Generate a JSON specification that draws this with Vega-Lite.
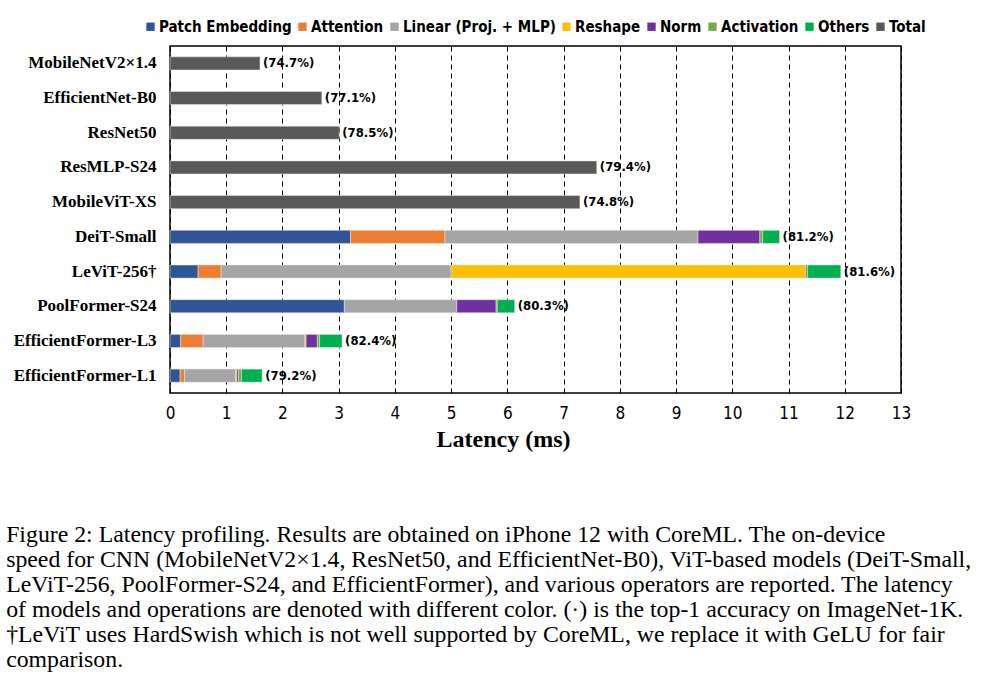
{
  "$schema": "https://vega.github.io/schema/vega-lite/v6.json",
  "width": 731,
  "height": 347,
  "padding": {"left": 6, "top": 19, "right": 0, "bottom": 0},
  "autosize": {"type": "pad"},
  "background": "white",
  "title": {
    "text": [
      "Figure 2: Latency profiling. Results are obtained on iPhone 12 with CoreML. The on-device",
      "speed for CNN (MobileNetV2×1.4, ResNet50, and EfficientNet-B0), ViT-based models (DeiT-Small,",
      "LeViT-256, PoolFormer-S24, and EfficientFormer), and various operators are reported. The latency",
      "of models and operations are denoted with different color. (·) is the top-1 accuracy on ImageNet-1K.",
      "†LeViT uses HardSwish which is not well supported by CoreML, we replace it with GeLU for fair",
      "comparison."
    ],
    "orient": "bottom",
    "anchor": "start",
    "frame": "bounds",
    "font": "Liberation Serif",
    "fontSize": 23.8,
    "fontWeight": "normal",
    "color": "black",
    "lineHeight": 25,
    "offset": 72,
    "dx": -7
  },
  "datasets": {
    "segments": [
      {"model": "MobileNetV2×1.4", "op": "Total", "ms": 1.60},
      {"model": "EfficientNet-B0", "op": "Total", "ms": 2.70},
      {"model": "ResNet50", "op": "Total", "ms": 3.01},
      {"model": "ResMLP-S24", "op": "Total", "ms": 7.59},
      {"model": "MobileViT-XS", "op": "Total", "ms": 7.29},
      {"model": "DeiT-Small", "op": "Patch Embedding", "ms": 3.21},
      {"model": "DeiT-Small", "op": "Attention", "ms": 1.68},
      {"model": "DeiT-Small", "op": "Linear (Proj. + MLP)", "ms": 4.50},
      {"model": "DeiT-Small", "op": "Norm", "ms": 1.10},
      {"model": "DeiT-Small", "op": "Activation", "ms": 0.05},
      {"model": "DeiT-Small", "op": "Others", "ms": 0.30},
      {"model": "LeViT-256†", "op": "Patch Embedding", "ms": 0.50},
      {"model": "LeViT-256†", "op": "Attention", "ms": 0.41},
      {"model": "LeViT-256†", "op": "Linear (Proj. + MLP)", "ms": 4.09},
      {"model": "LeViT-256†", "op": "Reshape", "ms": 6.30},
      {"model": "LeViT-256†", "op": "Activation", "ms": 0.04},
      {"model": "LeViT-256†", "op": "Others", "ms": 0.59},
      {"model": "PoolFormer-S24", "op": "Patch Embedding", "ms": 3.10},
      {"model": "PoolFormer-S24", "op": "Linear (Proj. + MLP)", "ms": 2.00},
      {"model": "PoolFormer-S24", "op": "Norm", "ms": 0.70},
      {"model": "PoolFormer-S24", "op": "Activation", "ms": 0.02},
      {"model": "PoolFormer-S24", "op": "Others", "ms": 0.31},
      {"model": "EfficientFormer-L3", "op": "Patch Embedding", "ms": 0.19},
      {"model": "EfficientFormer-L3", "op": "Attention", "ms": 0.40},
      {"model": "EfficientFormer-L3", "op": "Linear (Proj. + MLP)", "ms": 1.81},
      {"model": "EfficientFormer-L3", "op": "Reshape", "ms": 0.02},
      {"model": "EfficientFormer-L3", "op": "Norm", "ms": 0.20},
      {"model": "EfficientFormer-L3", "op": "Activation", "ms": 0.04},
      {"model": "EfficientFormer-L3", "op": "Others", "ms": 0.40},
      {"model": "EfficientFormer-L1", "op": "Patch Embedding", "ms": 0.18},
      {"model": "EfficientFormer-L1", "op": "Attention", "ms": 0.08},
      {"model": "EfficientFormer-L1", "op": "Linear (Proj. + MLP)", "ms": 0.91},
      {"model": "EfficientFormer-L1", "op": "Reshape", "ms": 0.02},
      {"model": "EfficientFormer-L1", "op": "Norm", "ms": 0.03},
      {"model": "EfficientFormer-L1", "op": "Activation", "ms": 0.05},
      {"model": "EfficientFormer-L1", "op": "Others", "ms": 0.37}
    ],
    "labels": [
      {"model": "MobileNetV2×1.4", "total": 1.60, "acc": "(74.7%)"},
      {"model": "EfficientNet-B0", "total": 2.70, "acc": "(77.1%)"},
      {"model": "ResNet50", "total": 3.01, "acc": "(78.5%)"},
      {"model": "ResMLP-S24", "total": 7.59, "acc": "(79.4%)"},
      {"model": "MobileViT-XS", "total": 7.29, "acc": "(74.8%)"},
      {"model": "DeiT-Small", "total": 10.84, "acc": "(81.2%)"},
      {"model": "LeViT-256†", "total": 11.93, "acc": "(81.6%)"},
      {"model": "PoolFormer-S24", "total": 6.13, "acc": "(80.3%)"},
      {"model": "EfficientFormer-L3", "total": 3.06, "acc": "(82.4%)"},
      {"model": "EfficientFormer-L1", "total": 1.64, "acc": "(79.2%)"}
    ]
  },
  "encoding": {
    "y": {
      "field": "model",
      "type": "nominal",
      "sort": ["MobileNetV2×1.4", "EfficientNet-B0", "ResNet50", "ResMLP-S24", "MobileViT-XS", "DeiT-Small", "LeViT-256†", "PoolFormer-S24", "EfficientFormer-L3", "EfficientFormer-L1"],
      "axis": {
        "title": null,
        "ticks": false,
        "domain": false,
        "labelFont": "Liberation Serif",
        "labelFontWeight": "bold",
        "labelFontSize": 17,
        "labelColor": "black",
        "labelPadding": 14
      }
    }
  },
  "layer": [
    {
      "data": {"name": "segments"},
      "transform": [
        {"calculate": "indexof(['Patch Embedding', 'Attention', 'Linear (Proj. + MLP)', 'Reshape', 'Norm', 'Activation', 'Others', 'Total'], datum.op)", "as": "opOrder"}
      ],
      "mark": {"type": "bar", "height": {"band": 0.42}, "stroke": "#e8e8e8", "strokeWidth": 0.5},
      "encoding": {
        "x": {
          "field": "ms",
          "type": "quantitative",
          "stack": "zero",
          "scale": {"domain": [0, 13], "nice": false},
          "axis": {
            "title": "Latency (ms)",
            "titleFont": "Liberation Serif",
            "titleFontWeight": "bold",
            "titleFontSize": 24,
            "titleColor": "black",
            "titlePadding": 6,
            "titleX": 333,
            "titleAlign": "center",
            "values": [0,1,2,3,4,5,6,7,8,9,10,11,12,13],
            "format": "d",
            "ticks": false,
            "domain": false,
            "grid": true,
            "gridColor": "black",
            "gridDash": [5, 4],
            "gridWidth": 1,
            "gridOpacity": 1,
            "labelFont": "'DejaVu Sans Condensed', 'Liberation Sans'",
            "labelFontSize": 17,
            "labelColor": "black",
            "labelPadding": 12,
            "labelFlush": false
          }
        },
        "order": {"field": "opOrder", "type": "quantitative"},
        "color": {
          "field": "op",
          "type": "nominal",
          "sort": ["Patch Embedding", "Attention", "Linear (Proj. + MLP)", "Reshape", "Norm", "Activation", "Others", "Total"],
          "scale": {
            "domain": ["Patch Embedding", "Attention", "Linear (Proj. + MLP)", "Reshape", "Norm", "Activation", "Others", "Total"],
            "range": ["#2F5597", "#ED7D31", "#A5A5A5", "#FFC000", "#7030A0", "#70AD47", "#00B050", "#595959"]
          },
          "legend": {
            "title": null,
            "orient": "none",
            "direction": "horizontal",
            "legendX": -27,
            "legendY": -27,
            "symbolType": "square",
            "symbolSize": 70,
            "symbolStrokeWidth": 0,
            "symbolOpacity": 1,
            "labelFont": "'DejaVu Sans Condensed', 'Liberation Sans'",
            "labelFontWeight": "bold",
            "labelFontSize": 15,
            "labelColor": "black",
            "labelOffset": 1,
            "columnPadding": 3,
            "columns": 8
          }
        }
      }
    },
    {
      "data": {"name": "labels"},
      "mark": {"type": "text", "align": "left", "baseline": "middle", "dx": 3, "font": "'DejaVu Sans Condensed', 'Liberation Sans'", "fontWeight": "bold", "fontSize": 13, "color": "black"},
      "encoding": {
        "x": {"field": "total", "type": "quantitative"},
        "text": {"field": "acc"}
      }
    }
  ],
  "config": {
    "view": {"stroke": "black", "strokeWidth": 1.5}
  }
}
